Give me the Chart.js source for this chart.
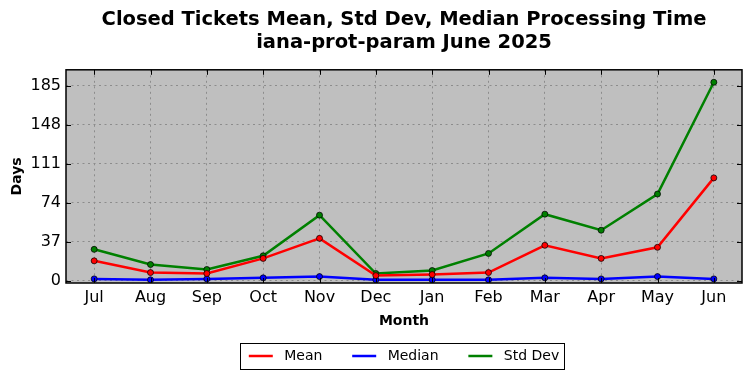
<!DOCTYPE html>
<html>
<head>
<meta charset="utf-8">
<script src="https://cdn.jsdelivr.net/npm/chart.js@4/dist/chart.umd.min.js"></script>
<style>
  html, body { margin: 0; padding: 0; background: #fff; }
  #wrap { width: 752px; height: 378px; }
</style>
</head>
<body>
<div id="wrap"><canvas id="myChart" width="752" height="378"></canvas></div>
<script>
const months = ['Jul', 'Aug', 'Sep', 'Oct', 'Nov', 'Dec', 'Jan', 'Feb', 'Mar', 'Apr', 'May', 'Jun']
const meanDays = [19, 7.9, 7, 21.3, 40.3, 5, 6, 7.9, 33.7, 21.3, 31.8, 97.6]
const medianDays = [1.9, 1, 1.9, 2.9, 4.1, 1, 1, 1, 2.9, 1.9, 4.1, 1.9]
const stdDevDays = [29.9, 15.5, 10.8, 23.8, 62.3, 7, 9.8, 26, 63.2, 48, 82.3, 188.2]
const yTicks = [0, 37, 74, 111, 148, 185]

Chart.defaults.font.family = "'DejaVu Sans', sans-serif"
Chart.defaults.color = '#000'

// grey plot background, black frame, inward tick marks like the original
const framePlugin = {
  id: 'frame',
  beforeDatasetsDraw(chart) {
    const a = chart.chartArea
    const ctx = chart.ctx
    ctx.save()
    ctx.globalCompositeOperation = 'destination-over'
    ctx.fillStyle = '#bfbfbf'
    ctx.fillRect(a.left, a.top, a.right - a.left, a.bottom - a.top)
    ctx.restore()
  },
  afterDraw(chart) {
    const a = chart.chartArea
    const ctx = chart.ctx
    ctx.save()
    ctx.strokeStyle = '#000'
    ctx.lineWidth = 1
    ctx.beginPath()
    yTicks.forEach(v => {
      const y = Math.round(chart.scales.y.getPixelForValue(v)) + 0.5
      ctx.moveTo(a.left, y); ctx.lineTo(a.left + 5, y)
      ctx.moveTo(a.right, y); ctx.lineTo(a.right - 5, y)
    })
    months.forEach((m, i) => {
      const x = Math.round(chart.scales.x.getPixelForValue(i)) + 0.5
      ctx.moveTo(x, a.bottom); ctx.lineTo(x, a.bottom - 5)
      ctx.moveTo(x, a.top); ctx.lineTo(x, a.top + 5)
    })
    ctx.stroke()
    ctx.lineWidth = 1.5
    ctx.strokeRect(a.left, a.top, a.right - a.left, a.bottom - a.top)

    // box round the legend
    const boxes = chart.legend.legendHitBoxes
    if (boxes && boxes.length) {
      const l = Math.min(...boxes.map(b => b.left)) - 9
      const r = Math.max(...boxes.map(b => b.left + b.width)) + 5
      const t = Math.min(...boxes.map(b => b.top)) - 6
      const b2 = Math.max(...boxes.map(b => b.top + b.height)) + 6
      ctx.lineWidth = 1
      ctx.strokeStyle = '#000'
      ctx.strokeRect(Math.round(l) + 0.5, Math.round(t) + 0.5, Math.round(r - l), Math.round(b2 - t))
    }
    ctx.restore()
  }
}

const mkSet = (label, data, color) => ({
  label: label,
  data: data,
  borderColor: color,
  backgroundColor: color,
  borderWidth: 2.5,
  pointRadius: 3,
  pointBorderWidth: 1,
  pointBorderColor: 'rgba(0,0,0,0.75)',
  pointBackgroundColor: color,
  tension: 0
})

new Chart('myChart', {
  type: 'line',
  data: {
    labels: months,
    datasets: [
      mkSet('Mean', meanDays, '#ff0000'),
      mkSet('Median', medianDays, '#0000ff'),
      mkSet('Std Dev', stdDevDays, '#008000')
    ]
  },
  plugins: [framePlugin],
  options: {
    responsive: false,
    animation: false,
    layout: { padding: { top: 0, left: 0, right: 10, bottom: 5 } },
    plugins: {
      title: {
        display: true,
        fullSize: false,
        text: ['Closed Tickets Mean, Std Dev, Median Processing Time', 'iana-prot-param June 2025'],
        font: { size: 19.5, weight: 'bold' },
        lineHeight: 1.13,
        padding: { top: 8, bottom: 15 },
        color: '#000'
      },
      legend: {
        position: 'bottom',
        fullSize: false,
        labels: {
          usePointStyle: true,
          pointStyle: 'line',
          pointStyleWidth: 24,
          boxHeight: 13,
          font: { size: 14 },
          padding: 12,
          color: '#000',
          generateLabels: chart => {
            const items = Chart.defaults.plugins.legend.labels.generateLabels(chart)
            items.forEach((it, i) => {
              const ds = chart.data.datasets[it.datasetIndex]
              it.strokeStyle = ds.borderColor
              it.fillStyle = ds.borderColor
              it.lineWidth = 2.5
              it.text = ' ' + ds.label + (i < items.length - 1 ? '    ' : '')
            })
            return items
          }
        }
      },
      tooltip: { enabled: false }
    },
    scales: {
      x: {
        offset: true,
        grid: { color: '#8c8c8c', drawTicks: false, lineWidth: 1 },
        border: { display: false, dash: [2, 3.5] },
        ticks: { font: { size: 16 }, padding: 5, color: '#000' },
        title: { display: true, text: 'Month', font: { size: 14, weight: 'bold' }, padding: { top: 0, bottom: 7 } },
        afterFit: s => { s.height = 54 }
      },
      y: {
        min: -2,
        max: 200,
        afterBuildTicks: s => { s.ticks = yTicks.map(v => ({ value: v })) },
        grid: { color: '#8c8c8c', drawTicks: false, lineWidth: 1 },
        border: { display: false, dash: [2, 3.5] },
        ticks: { font: { size: 16 }, padding: 5, color: '#000' },
        title: { display: true, text: 'Days', font: { size: 14, weight: 'bold' }, padding: { top: 9, bottom: 0 } },
        afterFit: s => { s.width = 66 }
      }
    }
  }
})
</script>
</body>
</html>
